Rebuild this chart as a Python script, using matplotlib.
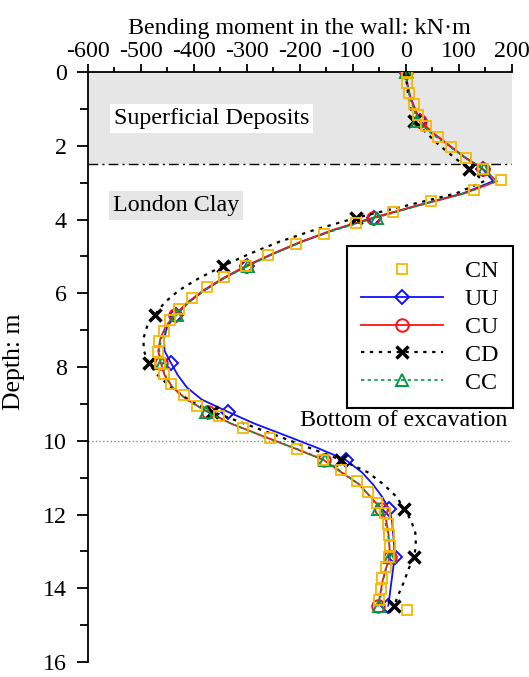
import numpy as np
import matplotlib.pyplot as plt
from matplotlib.ticker import MultipleLocator

plt.rcParams['font.family'] = ['Liberation Serif', 'DejaVu Serif']
plt.rcParams['axes.unicode_minus'] = False

FS = 17.3

# CN: finite-element reference, markers only
depth_cn = [0.0, 0.29, 0.58, 0.88, 1.17, 1.46, 1.75, 2.04, 2.34, 2.63, 2.92, 3.21, 3.5,
            3.8, 4.09, 4.38, 4.67, 4.96, 5.26, 5.55, 5.84, 6.13, 6.42, 6.72, 7.01, 7.3,
            7.59, 7.88, 8.18, 8.47, 8.76, 9.05, 9.34, 9.64, 9.93, 10.22, 10.51, 10.8,
            11.1, 11.39, 11.68, 11.97, 12.26, 12.56, 12.85, 13.14, 13.43, 13.72, 14.02,
            14.31, 14.6]
m_cn = [2, 3, 6, 15, 23, 38, 60, 85, 113, 145, 179, 129, 48, -24, -94, -154, -208, -259,
        -302, -342, -375, -403, -427, -445, -457, -466, -468, -464, -456, -442, -418,
        -393, -353, -308, -256, -205, -156, -123, -92, -72, -55, -40, -34, -32, -30,
        -32, -38, -44, -47, -50, 2]

# depths used by the other four analyses (marker on every 4th point)
depth = [0.0, 0.33, 0.66, 0.99, 1.32, 1.64, 1.97, 2.3, 2.63, 2.96, 3.29, 3.62, 3.95,
         4.27, 4.6, 4.93, 5.26, 5.59, 5.92, 6.25, 6.58, 6.9, 7.23, 7.56, 7.89, 8.22,
         8.55, 8.88, 9.21, 9.53, 9.86, 10.19, 10.52, 10.85, 11.18, 11.51, 11.84, 12.16,
         12.49, 12.82, 13.15, 13.48, 13.81, 14.14, 14.47]

m_uu = [0, 3, 8, 17, 26, 50, 80, 110, 145, 165, 108, 22, -60, -133, -196, -250, -300,
        -343, -380, -410, -433, -450, -456, -455, -443, -430, -413, -385, -336, -286,
        -226, -167, -113, -83, -62, -45, -32, -26, -24, -22, -21, -24, -27, -30, -33]
m_cu = [0, 3, 8, 17, 27, 50, 80, 110, 145, 172, 110, 22, -62, -135, -198, -252, -302,
        -345, -382, -412, -436, -453, -463, -467, -462, -455, -440, -413, -374, -330,
        -272, -212, -155, -122, -88, -67, -47, -37, -33, -31, -30, -38, -44, -48, -52]
m_cd = [0, 2, 5, 9, 16, 38, 62, 90, 119, 148, 95, 2, -93, -170, -238, -295, -345,
        -390, -428, -455, -473, -488, -495, -494, -485, -468, -443, -410, -365, -305,
        -243, -182, -122, -72, -42, -18, -3, 10, 18, 19, 16, 5, -3, -13, -22]
m_cc = [0, 3, 7, 15, 22, 46, 78, 110, 147, 172, 112, 25, -55, -130, -195, -250, -298,
        -342, -380, -410, -432, -450, -461, -465, -460, -454, -440, -414, -376, -330,
        -272, -210, -152, -120, -88, -68, -52, -40, -34, -31, -30, -37, -43, -47, -50]

fig = plt.figure(figsize=(5.29, 6.77), dpi=100)
ax = fig.add_axes([0.1658, 0.022, 0.8017, 0.8716])

# soil layers and excavation level
ax.axhspan(0, 2.5, color='#e6e6e6', lw=0, zorder=0)
ax.axhline(2.5, color='black', ls=(0, (7, 3, 1.5, 3)), lw=1.0, zorder=1)
ax.axhline(10, color='#888888', ls=':', lw=1.0, zorder=1)

ax.plot(m_uu, depth, color='#1010ff', lw=1.3, marker='D', ms=7, mfc='none', mew=1.4,
        markevery=4, label='UU', zorder=3)
ax.plot(m_cu, depth, color='#ff1010', lw=1.3, marker='o', ms=9, mfc='none', mew=1.4,
        markevery=4, label='CU', zorder=3)
ax.plot(m_cd, depth, color='black', lw=1.6, ls=(0, (1.5, 2.5)), marker='x', ms=9, mew=2.5,
        markevery=4, label='CD', zorder=4)
ax.plot(m_cc, depth, color='#009a44', lw=1.2, ls=(0, (2, 2)), marker='^', ms=8, mfc='none',
        mew=1.4, markevery=4, label='CC', zorder=4)
ax.plot(m_cn, depth_cn, ls='none', marker='s', ms=6.5, mfc='none', mec='#f5b800', mew=1.3,
        label='CN', zorder=5)

ax.text(-551, 1.25, 'Superficial Deposits', fontsize=FS, ha='left', va='center',
        bbox=dict(facecolor='white', edgecolor='none', pad=3))
ax.text(-553, 3.62, 'London Clay', fontsize=FS, ha='left', va='center',
        bbox=dict(facecolor='#e6e6e6', edgecolor='none', pad=3))
ax.text(192, 9.45, 'Bottom of excavation', fontsize=FS, ha='right', va='center')

ax.set_xlim(-600, 200)
ax.set_ylim(16, 0)
ax.xaxis.tick_top()
ax.xaxis.set_label_position('top')
ax.set_xlabel('Bending moment in the wall: kN·m', fontsize=FS, labelpad=5)
ax.set_ylabel('Depth: m', fontsize=18.5)
ax.yaxis.set_label_coords(-0.148, 0.509)
ax.xaxis.set_major_locator(MultipleLocator(100))
ax.xaxis.set_minor_locator(MultipleLocator(50))
ax.yaxis.set_major_locator(MultipleLocator(2))
ax.yaxis.set_minor_locator(MultipleLocator(1))
ax.tick_params(axis='both', which='both', direction='out', labelsize=FS, width=1.3)
ax.tick_params(axis='x', which='major', length=6, pad=1.5)
ax.tick_params(axis='x', which='minor', length=3.5)
ax.tick_params(axis='y', which='major', length=8, pad=7)
ax.tick_params(axis='y', which='minor', length=6)
for s in ['right', 'bottom']:
    ax.spines[s].set_visible(False)
for s in ['left', 'top']:
    ax.spines[s].set_linewidth(1.3)

handles, labels = ax.get_legend_handles_labels()
order = [4, 0, 1, 2, 3]
leg = ax.legend([handles[i] for i in order], [labels[i] for i in order],
                loc='upper left', bbox_to_anchor=(0.611, 0.705), fontsize=FS,
                frameon=True, fancybox=False, edgecolor='black', framealpha=1,
                handlelength=3.4, handletextpad=0.9, labelspacing=0.25,
                borderpad=0.6, borderaxespad=0)
leg.get_frame().set_linewidth(1.5)

fig.savefig('out.png', dpi=100)
